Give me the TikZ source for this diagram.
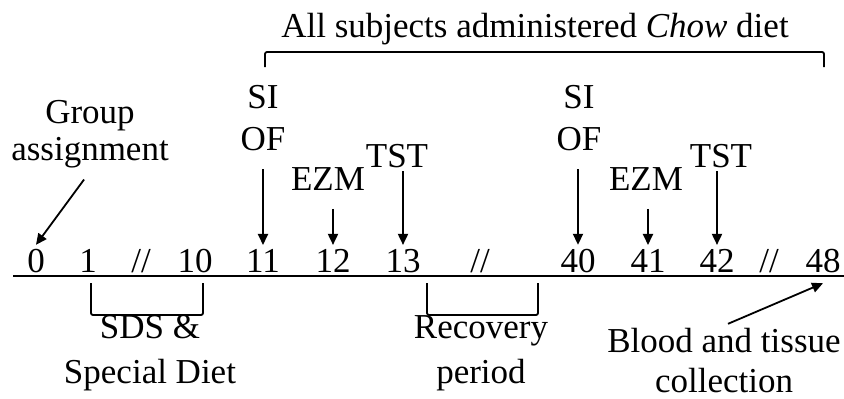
\documentclass[tikz,border=0pt]{standalone}
\usepackage{fontspec}
\setmainfont{Liberation Serif}
\usetikzlibrary{arrows.meta}

\begin{document}
\begin{tikzpicture}[x=1pt, y=-1pt, line width=1.8pt,
    day/.style = {anchor=base, inner sep=3pt},
    assay/.style = {anchor=base, align=center, inner sep=3pt},
    arr/.style = {-{Triangle[length=11pt, width=10pt]}},
    font=\fontsize{35}{40}\selectfont]
  \useasboundingbox (0, 0) rectangle (844, 399);

  % Days on the time line.
  \foreach \n/\x in {0/36, 1/88, 10/195, 11/263, 12/333, 13/403,
                     40/578, 41/648, 42/717, 48/823}
    \node at (\x, 272) [day, name=d\n] {\n};
  \foreach \s/\x in {a/141, b/480, c/769}
    \node at (\x, 272) [day, name=gap\s] {//};
  \draw (13, 276) -- (844, 276);

  % Tests.
  \node at (263, 150) [assay, name=SiOfA] {SI\\[2pt]OF};
  \node at (328, 190) [assay, name=EzmA] {EZM};
  \node at (397, 167) [assay, name=TstA] {TST};
  \node at (579, 150) [assay, name=SiOfB] {SI\\[2pt]OF};
  \node at (646, 190) [assay, name=EzmB] {EZM};
  \node at (721, 167) [assay, name=TstB] {TST};

  \draw [arr, shorten <=15pt] (SiOfA.south -| d11) -- (d11.north);
  \draw [arr, shorten <=15pt] (EzmA.south -| d12) -- (d12.north);
  \draw [arr] (TstA.south -| d13) -- (d13.north);
  \draw [arr, shorten <=15pt] (SiOfB.south -| d40) -- (d40.north);
  \draw [arr, shorten <=15pt] (EzmB.south -| d41) -- (d41.north);
  \draw [arr] (TstB.south -| d42) -- (d42.north);

  % Chow diet.
  \node at (535, 37) [assay, name=Chow] {All subjects administered \textit{Chow} diet};
  \draw [rounded corners=2pt] (265, 67) -- (265, 52) -- (824, 52) -- (824, 67);

  % Start and end.
  \node at (90, 160) [assay, name=Group] {Group\\[-3pt]assignment};
  \draw [arr, shorten <=10pt] (Group.south) -- (d0.north);
  \node at (724, 392) [assay, name=Blood] {Blood and tissue\\collection};
  \draw [arr] ([xshift=4pt]Blood.north) -- ([yshift=-7pt]d48.south);

  % Periods.
  \draw [rounded corners=2pt] (91, 283) -- (91, 315) -- (203, 315) -- (203, 283);
  \node at (150, 383) [assay, name=Sds] {SDS \&\\[5pt]Special Diet};
  \draw [rounded corners=2pt] (427, 283) -- (427, 315) -- (538, 315) -- (538, 283);
  \node at (481, 383) [assay, name=Recovery] {Recovery\\[5pt]period};
\end{tikzpicture}
\end{document}
